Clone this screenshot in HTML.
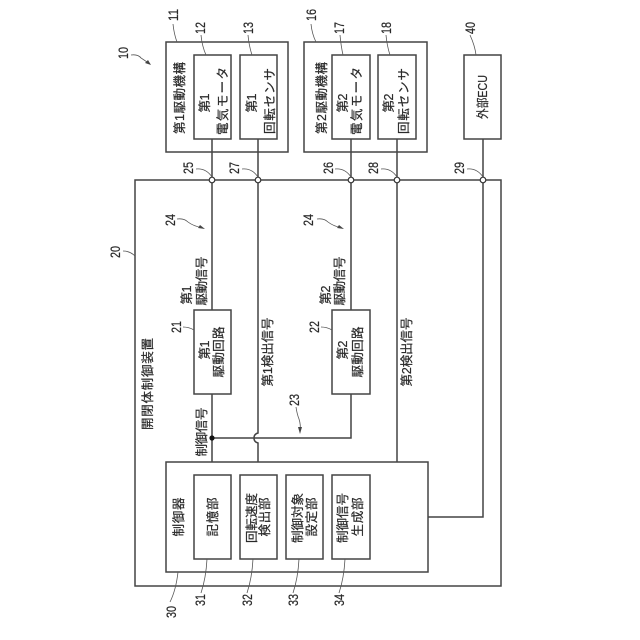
<!DOCTYPE html>
<html>
<head>
<meta charset="utf-8">
<style>
html,body{margin:0;padding:0;background:#fff;}
svg{display:block;}
text{font-family:"Liberation Sans","Noto Sans CJK JP",sans-serif;fill:#2a2a2a;stroke:#2a2a2a;stroke-width:.22;text-anchor:middle;dominant-baseline:central;font-size:12.5px;}
.b{fill:#fff;stroke:#444;stroke-width:1.5;}
.w{fill:none;stroke:#444;stroke-width:1.5;}
.l{fill:none;stroke:#555;stroke-width:.8;}
.n{font-size:14px;}
</style>
</head>
<body>
<svg width="640" height="640" viewBox="0 0 640 640" xmlns="http://www.w3.org/2000/svg">
<rect width="640" height="640" fill="#fff"/>

<!-- main frame -->
<rect class="b" x="135" y="180" width="366" height="406"/>
<!-- mechanisms -->
<rect class="b" x="166" y="42" width="122" height="110"/>
<rect class="b" x="194" y="55" width="37" height="84"/>
<rect class="b" x="240" y="55" width="37" height="84"/>
<rect class="b" x="304" y="42" width="123" height="110"/>
<rect class="b" x="332" y="55" width="38" height="84"/>
<rect class="b" x="378" y="55" width="38" height="84"/>
<rect class="b" x="464" y="55" width="37" height="84"/>

<!-- wires -->
<path class="w" d="M212 139V310M212 394V462"/>
<path class="w" d="M258 139V433Q254 434 254 438Q254 442 258 443V462"/>
<path class="w" d="M351 139V310M351 394V438H212"/>
<path class="w" d="M397 139V462"/>
<path class="w" d="M483 139V517H428"/>

<!-- circuits -->
<rect class="b" x="194" y="310" width="37" height="84"/>
<rect class="b" x="332" y="310" width="38" height="84"/>
<!-- controller -->
<rect class="b" x="166" y="462" width="262" height="110"/>
<rect class="b" x="194" y="475" width="37" height="84"/>
<rect class="b" x="240" y="475" width="37" height="84"/>
<rect class="b" x="286" y="475" width="37" height="84"/>
<rect class="b" x="332" y="475" width="38" height="84"/>

<!-- terminals -->
<g fill="#fff" stroke="#333" stroke-width="1.2">
<circle cx="212" cy="180" r="2.8"/>
<circle cx="258" cy="180" r="2.8"/>
<circle cx="351" cy="180" r="2.8"/>
<circle cx="397" cy="180" r="2.8"/>
<circle cx="483" cy="180" r="2.8"/>
</g>
<circle cx="212" cy="438" r="2.6" fill="#111"/>

<!-- leaders -->
<path class="l" d="M173 24Q174 34 177 42"/>
<path class="l" d="M201 35Q202 46 206 55"/>
<path class="l" d="M248 35Q249 46 252 55"/>
<path class="l" d="M311 24Q312 34 316 42"/>
<path class="l" d="M340 35Q341 46 343 55"/>
<path class="l" d="M386 35Q387 46 390 55"/>
<path class="l" d="M470 35Q475 46 476 55"/>
<path class="l" d="M196 169Q206 168 212 177"/>
<path class="l" d="M242 169Q252 168 258 177"/>
<path class="l" d="M335 169Q345 168 351 177"/>
<path class="l" d="M381 169Q391 168 397 177"/>
<path class="l" d="M467 169Q477 168 483 177"/>
<path class="l" d="M123 251Q130 251 135 256"/>
<path class="l" d="M183 327Q189 327 194 330"/>
<path class="l" d="M321 327Q327 327 332 330"/>
<path class="l" d="M178 572Q176 590 170 602"/>
<path class="l" d="M207 559Q206 578 201 593"/>
<path class="l" d="M253 559Q252 578 247 593"/>
<path class="l" d="M299 559Q298 578 293 593"/>
<path class="l" d="M345 559Q344 578 339 593"/>

<!-- arrows -->
<path class="l" d="M131 55Q138 54 141 58Q144 60 150 64"/>
<path d="M151 65L145 63L148 60Z" fill="#444"/>
<path class="l" d="M177 219Q184 218 188 222Q193 226 203 228"/>
<path d="M205 229L198 228L200 225Z" fill="#444"/>
<path class="l" d="M317 219Q324 218 328 222Q333 226 342 228"/>
<path d="M344 229L337 228L339 225Z" fill="#444"/>
<path class="l" d="M296 407Q297 414 299 419Q301 425 300 431"/>
<path d="M300 434L298 427L302 427Z" fill="#444"/>

<!-- numbers -->
<text class="n" x="173" y="15" transform="rotate(-90 173 15)" textLength="12" lengthAdjust="spacingAndGlyphs">11</text>
<text class="n" x="200" y="28" transform="rotate(-90 200 28)" textLength="12" lengthAdjust="spacingAndGlyphs">12</text>
<text class="n" x="248" y="28" transform="rotate(-90 248 28)" textLength="12" lengthAdjust="spacingAndGlyphs">13</text>
<text class="n" x="123" y="53" transform="rotate(-90 123 53)" textLength="12" lengthAdjust="spacingAndGlyphs">10</text>
<text class="n" x="311" y="15" transform="rotate(-90 311 15)" textLength="12" lengthAdjust="spacingAndGlyphs">16</text>
<text class="n" x="339" y="28" transform="rotate(-90 339 28)" textLength="12" lengthAdjust="spacingAndGlyphs">17</text>
<text class="n" x="386" y="28" transform="rotate(-90 386 28)" textLength="12" lengthAdjust="spacingAndGlyphs">18</text>
<text class="n" x="470" y="28" transform="rotate(-90 470 28)" textLength="12" lengthAdjust="spacingAndGlyphs">40</text>
<text class="n" x="188" y="168" transform="rotate(-90 188 168)" textLength="12" lengthAdjust="spacingAndGlyphs">25</text>
<text class="n" x="234" y="168" transform="rotate(-90 234 168)" textLength="12" lengthAdjust="spacingAndGlyphs">27</text>
<text class="n" x="328" y="168" transform="rotate(-90 328 168)" textLength="12" lengthAdjust="spacingAndGlyphs">26</text>
<text class="n" x="373" y="168" transform="rotate(-90 373 168)" textLength="12" lengthAdjust="spacingAndGlyphs">28</text>
<text class="n" x="459" y="168" transform="rotate(-90 459 168)" textLength="12" lengthAdjust="spacingAndGlyphs">29</text>
<text class="n" x="170" y="220" transform="rotate(-90 170 220)" textLength="12" lengthAdjust="spacingAndGlyphs">24</text>
<text class="n" x="308" y="220" transform="rotate(-90 308 220)" textLength="12" lengthAdjust="spacingAndGlyphs">24</text>
<text class="n" x="115" y="252" transform="rotate(-90 115 252)" textLength="12" lengthAdjust="spacingAndGlyphs">20</text>
<text class="n" x="176" y="327" transform="rotate(-90 176 327)" textLength="12" lengthAdjust="spacingAndGlyphs">21</text>
<text class="n" x="314" y="327" transform="rotate(-90 314 327)" textLength="12" lengthAdjust="spacingAndGlyphs">22</text>
<text class="n" x="294" y="400" transform="rotate(-90 294 400)" textLength="12" lengthAdjust="spacingAndGlyphs">23</text>
<text class="n" x="171" y="612" transform="rotate(-90 171 612)" textLength="12" lengthAdjust="spacingAndGlyphs">30</text>
<text class="n" x="200" y="600" transform="rotate(-90 200 600)" textLength="12" lengthAdjust="spacingAndGlyphs">31</text>
<text class="n" x="247" y="600" transform="rotate(-90 247 600)" textLength="12" lengthAdjust="spacingAndGlyphs">32</text>
<text class="n" x="293" y="600" transform="rotate(-90 293 600)" textLength="12" lengthAdjust="spacingAndGlyphs">33</text>
<text class="n" x="339" y="600" transform="rotate(-90 339 600)" textLength="12" lengthAdjust="spacingAndGlyphs">34</text>

<!-- labels -->
<text x="180" y="98" transform="rotate(-90 180 98)" textLength="72">第1駆動機構</text>
<text x="205" y="103" transform="rotate(-90 205 103)" textLength="19">第1</text>
<text x="223" y="101" transform="rotate(-90 223 101)" textLength="68">電気モータ</text>
<text x="252" y="103" transform="rotate(-90 252 103)" textLength="19">第1</text>
<text x="270" y="101" transform="rotate(-90 270 101)" textLength="66">回転センサ</text>
<text x="322" y="98" transform="rotate(-90 322 98)" textLength="72">第2駆動機構</text>
<text x="343" y="103" transform="rotate(-90 343 103)" textLength="19">第2</text>
<text x="357" y="101" transform="rotate(-90 357 101)" textLength="68">電気モータ</text>
<text x="389" y="103" transform="rotate(-90 389 103)" textLength="19">第2</text>
<text x="404" y="101" transform="rotate(-90 404 101)" textLength="66">回転センサ</text>
<text x="483" y="97" transform="rotate(-90 483 97)" textLength="44" lengthAdjust="spacingAndGlyphs">外部ECU</text>

<text x="148" y="384" transform="rotate(-90 148 384)" textLength="92">開閉体制御装置</text>
<text x="187" y="295" transform="rotate(-90 187 295)" textLength="19">第1</text>
<text x="202" y="281" transform="rotate(-90 202 281)" textLength="49">駆動信号</text>
<text x="326" y="295" transform="rotate(-90 326 295)" textLength="19">第2</text>
<text x="340" y="281" transform="rotate(-90 340 281)" textLength="49">駆動信号</text>
<text x="205" y="350" transform="rotate(-90 205 350)" textLength="19">第1</text>
<text x="219" y="352" transform="rotate(-90 219 352)" textLength="51">駆動回路</text>
<text x="343" y="350" transform="rotate(-90 343 350)" textLength="19">第2</text>
<text x="358" y="352" transform="rotate(-90 358 352)" textLength="51">駆動回路</text>
<text x="268" y="352" transform="rotate(-90 268 352)" textLength="69">第1検出信号</text>
<text x="407" y="352" transform="rotate(-90 407 352)" textLength="69">第2検出信号</text>
<text x="202" y="432" transform="rotate(-90 202 432)" textLength="49">制御信号</text>

<text x="179" y="517" transform="rotate(-90 179 517)" textLength="39">制御器</text>
<text x="213" y="517" transform="rotate(-90 213 517)" textLength="39">記憶部</text>
<text x="252" y="518" transform="rotate(-90 252 518)" textLength="50">回転速度</text>
<text x="265" y="517" transform="rotate(-90 265 517)" textLength="39">検出部</text>
<text x="298" y="518" transform="rotate(-90 298 518)" textLength="50">制御対象</text>
<text x="312" y="517" transform="rotate(-90 312 517)" textLength="39">設定部</text>
<text x="343" y="518" transform="rotate(-90 343 518)" textLength="50">制御信号</text>
<text x="358" y="517" transform="rotate(-90 358 517)" textLength="39">生成部</text>
</svg>
</body>
</html>
